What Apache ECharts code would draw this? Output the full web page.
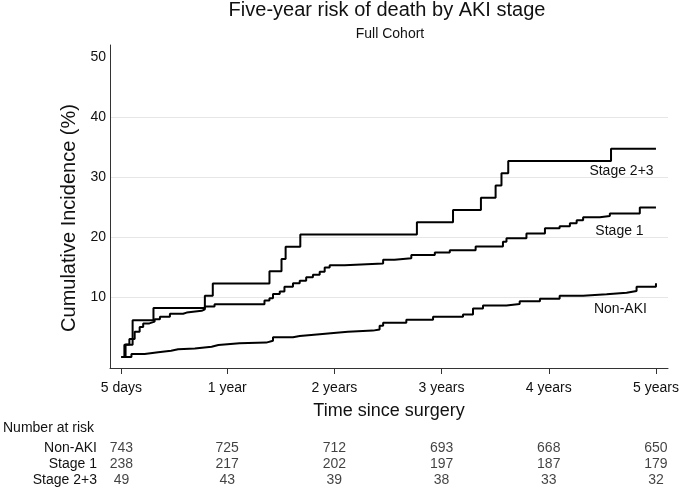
<!DOCTYPE html>
<html>
<head>
<meta charset="utf-8">
<script src="https://cdn.jsdelivr.net/npm/echarts@6/dist/echarts.min.js"></script>
<style>html,body{margin:0;padding:0;background:#fff}#c{width:685px;height:492px}</style>
</head>
<body>
<div id="c"></div>
<script>
// ---- data (days since surgery, cumulative incidence %) ----
var tickDays = [5, 365, 730, 1095, 1460, 1825];
var tickLabels = ['5 days', '1 year', '2 years', '3 years', '4 years', '5 years'];
var yLabels = [10, 20, 30, 40, 50];
var gridValues = [10, 20, 30, 40];

var stage23Days = [5, 15, 43, 114, 289, 316, 509, 550, 564, 614, 1011, 1134, 1229, 1279, 1299, 1322, 1672, 1825];
var stage23Vals = [0, 2.04, 6.12, 8.16, 10.2, 12.24, 14.29, 16.33, 18.37, 20.41, 22.45, 24.49, 26.53, 28.57, 30.61, 32.65, 34.69, 34.69];

var stage1Days = [5, 19, 32, 50, 67, 79, 100, 118, 136, 170, 215, 227, 278, 289, 322, 492, 509, 521, 544, 560, 589, 612, 634, 657, 680, 697, 714, 765, 896, 935, 992, 1072, 1123, 1211, 1304, 1316, 1384, 1447, 1497, 1532, 1555, 1577, 1634, 1668, 1770, 1825];
var stage1Vals = [0, 2.1, 3.0, 4.2, 5.0, 5.6, 5.9, 6.3, 6.7, 7.2, 7.4, 7.7, 7.95, 8.4, 8.8, 9.4, 9.8, 10.5, 10.9, 11.7, 12.3, 12.7, 13.3, 13.7, 14.2, 14.9, 15.3, 15.6, 16.2, 16.45, 17.0, 17.4, 17.8, 18.4, 19.2, 19.8, 20.6, 21.45, 21.8, 22.3, 22.8, 23.3, 23.5, 23.9, 24.9, 24.9];

var nonAkiDays = [5, 39, 84, 130, 174, 198, 255, 312, 335, 407, 498, 521, 589, 612, 680, 737, 776, 861, 884, 896, 975, 1066, 1168, 1202, 1236, 1316, 1361, 1430, 1497, 1577, 1657, 1725, 1759, 1825];
var nonAkiVals = [0, 0.5, 0.8, 1.05, 1.3, 1.4, 1.7, 2.0, 2.3, 2.4, 2.7, 3.3, 3.5, 3.8, 4.05, 4.2, 4.4, 4.6, 5.2, 5.7, 6.2, 6.7, 7.1, 8.1, 8.6, 8.85, 9.3, 9.7, 10.2, 10.45, 10.7, 11.0, 11.7, 12.3];

var groups = ['Non-AKI', 'Stage 1', 'Stage 2+3'];
var riskNonAki = [743, 725, 712, 693, 668, 650];
var riskStage1 = [238, 217, 202, 197, 187, 179];
var riskStage23 = [49, 43, 39, 38, 33, 32];

// label anchors (data coords) for curve names
var labelPos = { 'Stage 2+3': [1817, 31.0], 'Stage 1': [1783, 21.0], 'Non-AKI': [1794, 8.0] };

function zip(a, b) { return a.map(function (v, i) { return [v, b[i]]; }); }

var FONT = "'Liberation Sans', Arial, Helvetica, sans-serif";
var X_MIN = -34, X_MAX = 1866;

function curve(name, days, vals) {
  return {
    name: name, type: 'line', step: 'end', xAxisIndex: 0, yAxisIndex: 0,
    data: zip(days, vals), symbol: 'none', silent: true,
    lineStyle: { color: '#000', width: 2 },
    markPoint: {
      symbol: 'circle', symbolSize: 0, silent: true,
      data: [{ coord: labelPos[name], value: name }],
      label: { show: true, position: 'left', distance: 0, formatter: name, color: '#111', fontSize: 14, fontFamily: FONT }
    }
  };
}

var riskRows = [riskNonAki, riskStage1, riskStage23];
var riskData = [];
riskRows.forEach(function (row, r) {
  row.forEach(function (v, i) { riskData.push([tickDays[i], groups[r], v]); });
});

var chart = echarts.init(document.getElementById('c'), null, { renderer: 'canvas' });
chart.setOption({
  animation: false,
  backgroundColor: '#fff',
  textStyle: { fontFamily: FONT },
  title: [
    { text: 'Five-year risk of death by AKI stage', left: 387, top: 0, textAlign: 'center', padding: 0,
      textStyle: { fontSize: 20, fontWeight: 'normal', color: '#111', fontFamily: FONT } },
    { text: 'Full Cohort', left: 390, top: 27, textAlign: 'center', padding: 0,
      textStyle: { fontSize: 14, fontWeight: 'normal', color: '#111', fontFamily: FONT } }
  ],
  graphic: [
    { type: 'text', left: 3, top: 421, style: { text: 'Number at risk', fontSize: 14, fill: '#111', fontFamily: FONT } }
  ],
  grid: [
    { left: 110, right: 17, top: 45, bottom: 124 },
    { left: 110, right: 17, top: 440, height: 48 }
  ],
  xAxis: [
    { type: 'value', gridIndex: 0, min: X_MIN, max: X_MAX,
      name: 'Time since surgery', nameLocation: 'middle', nameGap: 34,
      nameTextStyle: { fontSize: 18, color: '#111', fontFamily: FONT },
      axisLine: { show: true, onZero: false, lineStyle: { color: '#333', width: 1 } },
      axisTick: { show: true, length: 6, customValues: tickDays, lineStyle: { color: '#333' } },
      axisLabel: { customValues: tickDays, margin: 13, fontSize: 14, color: '#111', fontFamily: FONT,
        formatter: function (v) { var i = tickDays.indexOf(v); return i >= 0 ? tickLabels[i] : ''; } },
      splitLine: { show: false } },
    { type: 'value', gridIndex: 1, min: X_MIN, max: X_MAX, show: false }
  ],
  yAxis: [
    { type: 'value', gridIndex: 0, min: -1.83, max: 52,
      name: 'Cumulative Incidence (%)', nameLocation: 'middle', nameGap: 27,
      nameTextStyle: { fontSize: 20, color: '#111', fontFamily: FONT, padding: [0, 23, 0, 0] },
      axisLine: { show: true, onZero: false, lineStyle: { color: '#333', width: 1 } },
      axisTick: { show: false, customValues: gridValues },
      axisLabel: { customValues: yLabels, margin: 4, fontSize: 14, color: '#111', fontFamily: FONT },
      splitLine: { show: true, lineStyle: { color: '#e6e6e6', width: 1 } } },
    { type: 'category', gridIndex: 1, data: groups, inverse: true,
      axisLine: { show: false }, axisTick: { show: false }, splitLine: { show: false },
      axisLabel: { interval: 0, margin: 13, fontSize: 14, color: '#111', fontFamily: FONT } }
  ],
  series: [
    curve('Non-AKI', nonAkiDays, nonAkiVals),
    curve('Stage 1', stage1Days, stage1Vals),
    curve('Stage 2+3', stage23Days, stage23Vals),
    { type: 'scatter', xAxisIndex: 1, yAxisIndex: 1, data: riskData, symbolSize: 0, silent: true,
      label: { show: true, position: 'inside', fontSize: 14, color: '#111', fontFamily: FONT,
        formatter: function (p) { return String(p.data[2]); } } }
  ]
});
</script>
</body>
</html>
